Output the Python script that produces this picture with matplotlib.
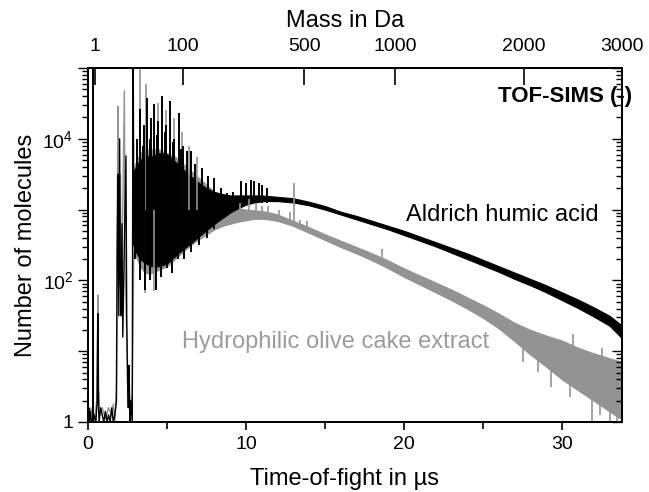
import numpy as np
import matplotlib
matplotlib.use('Agg')
import matplotlib.pyplot as plt
from matplotlib.ticker import FixedLocator, FuncFormatter, NullFormatter, LogLocator

plt.rcParams['font.family'] = ['Liberation Sans', 'DejaVu Sans']
plt.rcParams['mathtext.fontset'] = 'custom'
plt.rcParams['mathtext.rm'] = 'Liberation Sans'

# ---------------------------------------------------------------------------
# data (counts given as log10 values)
# ---------------------------------------------------------------------------
# low-mass part, t < 2.9 us
blk_early_t = [0.0, 0.05, 0.1, 0.15, 0.2, 0.25, 0.3, 0.32, 0.34, 0.4, 0.5, 0.58, 0.62, 0.66,
               0.7, 0.8, 0.9, 1.0, 1.1, 1.2, 1.3, 1.4, 1.5, 1.6, 1.7, 1.8, 1.85, 1.9, 1.95,
               2.0, 2.05, 2.1, 2.15, 2.2, 2.3, 2.4, 2.45, 2.5, 2.55, 2.6, 2.65, 2.7, 2.8,
               2.85, 2.9]
blk_early_log = [0.1, 0.2, 0.0, 0.15, 0.05, 0.0, 0.0, 6.0, 0.0, 0.1, 0.0, 0.3, 1.53, 0.3,
                 0.0, 0.2, 0.1, 0.0, 0.15, 0.0, 0.1, 0.0, 0.2, 0.0, 0.1, 0.3, 2.5, 3.5, 1.5,
                 4.0, 2.0, 1.5, 2.8, 1.2, 2.5, 3.76, 1.5, 0.6, 0.2, 0.8, 0.0, 0.3, 0.0,
                 6.0, 2.5]
grey_early_t = [0.0, 0.1, 0.2, 0.3, 0.45, 0.55, 0.6, 0.63, 0.67, 0.75, 0.9, 1.1, 1.3, 1.5,
                1.6, 1.7, 1.8, 1.85, 1.9, 1.95, 2.05, 2.1, 2.2, 2.3, 2.35, 2.45, 2.55, 2.7,
                2.8, 2.9]
grey_early_log = [0.15, 0.05, 0.2, 0.0, 0.1, 0.3, 1.2, 1.79, 0.5, 0.1, 0.2, 0.05, 0.2, 0.1,
                  0.25, 0.0, 0.5, 3.0, 4.46, 2.0, 3.5, 1.8, 3.0, 4.68, 2.2, 1.2, 0.5, 0.2,
                  0.4, 2.4]

# main part: lower / upper edge of the noise band
blk_t = [2.9, 3.3, 3.6, 4.0, 4.5, 5.0, 5.5, 6.0, 6.5, 7.0, 7.5, 8.0, 8.5, 9.0, 9.5, 10.0,
         10.5, 11.0, 11.5, 12, 13, 14, 15, 16, 17, 18, 19, 20, 21, 22, 23, 24, 25, 26,
         27, 28, 29, 30, 31, 32, 33, 33.8]
blk_lo = [2.45, 2.3, 2.25, 2.2, 2.2, 2.24, 2.34, 2.44, 2.52, 2.62, 2.71, 2.8, 2.88, 2.96,
          3.02, 3.07, 3.1, 3.12, 3.12, 3.12, 3.1, 3.06, 3.0, 2.93, 2.86, 2.79, 2.72, 2.64,
          2.56, 2.48, 2.39, 2.3, 2.21, 2.12, 2.02, 1.93, 1.83, 1.72, 1.61, 1.49, 1.36, 1.18]
blk_hi = [3.55, 3.7, 3.75, 3.75, 3.8, 3.78, 3.68, 3.57, 3.47, 3.38, 3.3, 3.25, 3.22, 3.2,
          3.2, 3.2, 3.2, 3.2, 3.19, 3.18, 3.16, 3.11, 3.05, 2.97, 2.91, 2.84, 2.77, 2.7,
          2.62, 2.54, 2.46, 2.38, 2.29, 2.2, 2.11, 2.02, 1.93, 1.83, 1.73, 1.62, 1.5, 1.36]

grey_t = [2.9, 3.3, 3.6, 4.0, 4.5, 5.0, 5.5, 6.0, 6.5, 7.0, 7.5, 8.0, 8.5, 9.0, 9.5, 10.0,
          10.5, 11.0, 11.5, 12, 13, 14, 15, 16, 17, 18, 19, 20, 21, 22, 23, 24, 25, 26,
          27, 28, 29, 30, 31, 32, 33, 33.8]
grey_lo = [2.4, 2.2, 2.1, 2.1, 2.15, 2.2, 2.3, 2.4, 2.5, 2.58, 2.65, 2.72, 2.77, 2.8, 2.83,
           2.85, 2.87, 2.87, 2.86, 2.84, 2.77, 2.67, 2.57, 2.47, 2.38, 2.28, 2.17, 2.05,
           1.94, 1.83, 1.72, 1.6, 1.47, 1.32, 1.14, 0.95, 0.78, 0.6, 0.45, 0.3, 0.15, 0.03]
grey_hi = [3.6, 3.8, 3.85, 3.85, 3.85, 3.8, 3.75, 3.65, 3.55, 3.45, 3.35, 3.25, 3.15, 3.07,
           3.02, 3.0, 2.99, 2.98, 2.96, 2.93, 2.84, 2.75, 2.65, 2.56, 2.47, 2.38, 2.28, 2.17,
           2.07, 1.97, 1.87, 1.76, 1.65, 1.53, 1.4, 1.3, 1.22, 1.15, 1.05, 0.97, 0.9, 0.85]

# single peaks sticking out of the band (t, low end, high end)
blk_pk_t = [3.1, 3.3, 3.45, 3.55, 3.75, 3.9, 4.0, 4.2, 4.35, 4.45, 4.7, 4.85, 4.95, 5.2,
            5.35, 5.45, 5.75, 5.9, 6.0, 6.25, 6.5, 6.8, 7.2, 7.6, 8.0, 8.4, 8.8, 9.2, 9.7,
            10.0, 10.3, 10.5, 10.8, 11.0, 11.3,
            3.0, 3.3, 3.6, 3.9, 4.3, 4.6, 5.0, 5.3, 5.7, 6.1, 6.5, 7.0, 7.5, 8.0]
blk_pk_lo = ([3.0] * 28 + [3.1] * 7 +
             [2.3, 2.0, 1.86, 2.0, 1.86, 2.05, 2.18, 2.1, 2.3, 2.3, 2.4, 2.5, 2.6, 2.72])
blk_pk_hi = ([4.0, 4.42, 3.9, 4.2, 4.58, 4.0, 4.3, 4.49, 4.05, 4.25, 4.6, 4.1, 4.2, 4.54,
              3.95, 4.0, 4.37, 3.85, 3.9, 3.83, 3.83, 3.65, 3.59, 3.48, 3.45, 3.31, 3.24,
              3.25, 3.41, 3.37, 3.42, 3.4, 3.38, 3.35, 3.3] + [3.0] * 14)

grey_pk_t = [3.3, 3.7, 4.45, 4.95, 5.45, 5.95, 6.4, 6.9, 9.6, 10.2, 10.6, 11.0, 11.4, 12.1,
             12.8, 13.05, 13.4, 13.85, 18.6, 30.7, 32.5,
             3.6, 4.2, 27.5, 28.5, 29.3, 30.5, 31.9, 32.4, 33.0, 33.5]
grey_pk_lo = [3.0] * 8 + [2.9, 2.9, 2.9, 2.9, 2.9, 2.85, 2.8, 2.8, 2.75, 2.7, 2.25, 0.9, 0.7,
                          1.82, 1.85, 0.85, 0.7, 0.5, 0.35, -0.1, 0.1, -0.1, -0.1]
grey_pk_hi = [5.0, 4.77, 4.5, 4.4, 4.3, 4.1, 3.9, 3.75, 3.1, 3.15, 3.1, 3.05, 3.05, 3.0,
              2.97, 3.37, 2.86, 2.84, 2.45, 1.25, 1.05,
              3.0, 3.0, 1.2, 1.1, 1.0, 0.9, 0.7, 0.7, 0.6, 0.6]

mass_ticks = [1, 100, 500, 1000, 2000, 3000]

BLACK = '#000000'
GREY = '#939393'


def mass_to_time(m):
    # flight time grows with sqrt(mass)
    return 0.62 * np.sqrt(m) - 0.17


def pw(v):
    return 10.0 ** np.asarray(v, dtype=float)


fig = plt.figure(figsize=(6.49, 4.92), dpi=100)
ax = fig.add_axes([88 / 649, 1 - 422 / 492, 534 / 649, 354 / 492])

# grey spectrum underneath
ax.plot(grey_early_t, pw(grey_early_log), color=GREY, lw=1.0)
ax.fill_between(grey_t, pw(grey_lo), pw(grey_hi), color=GREY, lw=0.8)
ax.vlines(grey_pk_t, pw(grey_pk_lo), pw(grey_pk_hi), color=GREY, lw=1.2)

# black spectrum on top
ax.plot(blk_early_t, pw(blk_early_log), color=BLACK, lw=1.0)
ax.fill_between(blk_t, pw(blk_lo), pw(blk_hi), color=BLACK, lw=0.8)
ax.vlines(blk_pk_t, pw(blk_pk_lo), pw(blk_pk_hi), color=BLACK, lw=1.4)

ax.set_yscale('log')
ax.set_ylim(1, 1e5)
ax.set_xlim(0, mass_to_time(3000))

# bottom axis
ax.set_xticks([0, 10, 20, 30])
ax.set_xticks([5, 15, 25], minor=True)
ax.tick_params(axis='x', which='both', direction='out', top=False, labelsize=14,
               width=1.2, pad=4)
ax.tick_params(axis='x', which='major', length=6)
ax.tick_params(axis='x', which='minor', length=5)
ax.set_xlabel('Time-of-fight in µs', fontsize=17)
ax.xaxis.set_label_coords((345 - 88) / 534, -0.13)

# y axis
ax.yaxis.set_major_locator(FixedLocator([1, 10, 100, 1e3, 1e4, 1e5]))
ax.yaxis.set_minor_locator(LogLocator(base=10, subs=np.arange(2, 10)))
ax.yaxis.set_minor_formatter(NullFormatter())
labels = {1: '1', 100: r'$\mathregular{10^2}$', 10000: r'$\mathregular{10^4}$'}
ax.yaxis.set_major_formatter(FuncFormatter(lambda v, p: labels.get(int(round(v)), '')))
ax.tick_params(axis='y', which='both', left=True, right=False, labelsize=14, width=1.0)
ax.tick_params(axis='y', which='major', length=7)
ax.tick_params(axis='y', which='minor', length=4)
ax.set_ylabel('Number of molecules', fontsize=17)
ax.yaxis.set_label_coords(-0.095, 0.5)

for sp in ax.spines.values():
    sp.set_linewidth(1.3)

# inward ticks on the right side
axr = ax.twinx()
axr.set_yscale('log')
axr.set_ylim(ax.get_ylim())
axr.yaxis.set_major_locator(FixedLocator([1, 10, 100, 1e3, 1e4, 1e5]))
axr.yaxis.set_minor_locator(LogLocator(base=10, subs=np.arange(2, 10)))
axr.yaxis.set_major_formatter(NullFormatter())
axr.yaxis.set_minor_formatter(NullFormatter())
axr.tick_params(axis='y', which='both', direction='in', width=1.0)
axr.tick_params(axis='y', which='major', length=7)
axr.tick_params(axis='y', which='minor', length=4)

# top mass axis
axt = ax.twiny()
axt.set_xlim(ax.get_xlim())
axt.set_xticks([mass_to_time(m) for m in mass_ticks])
axt.set_xticklabels([str(m) for m in mass_ticks])
axt.tick_params(axis='x', direction='in', length=12, width=1.2, labelsize=14, pad=9)
axt.set_xlabel('Mass in Da', fontsize=17)
axt.xaxis.set_label_coords((345 - 88) / 534, 1.115)
for a in (axr, axt):
    for sp in a.spines.values():
        sp.set_linewidth(1.3)

ax.text(26.2, 850, 'Aldrich humic acid', fontsize=17, color=BLACK,
        ha='center', va='center')
ax.text(15.7, 13.5, 'Hydrophilic olive cake extract', fontsize=17, color='#9c9c9c',
        ha='center', va='center')
ax.text(34.45, 4.0e4, 'TOF-SIMS (-)', fontsize=16, fontweight='bold', color=BLACK,
        ha='right', va='center', clip_on=False)

fig.savefig('out.png', dpi=100)
